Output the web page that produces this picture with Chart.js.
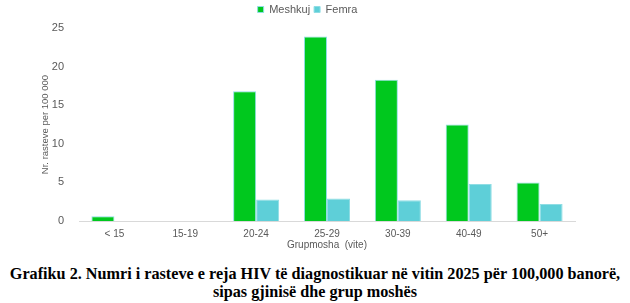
<!DOCTYPE html>
<html>
<head>
<meta charset="utf-8">
<script src="https://cdn.jsdelivr.net/npm/chart.js@4"></script>
<style>
  html, body { margin: 0; padding: 0; background: #fff; }
  #wrap { width: 630px; height: 255px; position: relative; }
  #caption {
    width: 630px; text-align: center;
    font-family: "Liberation Serif", "Times New Roman", serif;
    font-weight: bold; font-size: 16.2px; line-height: 18px;
    color: #000; margin-top: 10px;
  }
</style>
</head>
<body>
<div id="wrap"><canvas id="chart"></canvas></div>
<div id="caption">Grafiku 2. Numri i rasteve e reja HIV të diagnostikuar në vitin 2025 për 100,000 banorë,<br>sipas gjinisë dhe grup moshës</div>
<script>
// grupmoshat
const ageGroups = ['< 15', '15-19', '20-24', '25-29', '30-39', '40-49', '50+'];
const maleRates = [0.6, 0, 16.8, 23.9, 18.3, 12.5, 5.0];
const femaleRates = [0, 0, 2.8, 2.9, 2.7, 4.8, 2.2];
const yTicks = [0, 5, 10, 15, 20, 25];

const gray = '#595959';

// legend pak me shume hapesire poshte
const legendGap = {
    id: 'legendGap',
    beforeInit(chart) {
        const fit = chart.legend.fit;
        chart.legend.fit = function () {
            fit.call(this);
            this.height += 3;
        };
    }
};

const ctx = document.getElementById('chart').getContext('2d');

const chart = new Chart(ctx, {
    type: 'bar',
    data: {
        labels: ageGroups,
        datasets: [
            {
                label: 'Meshkuj',
                data: maleRates,
                backgroundColor: '#00c81e',
                borderColor: '#8fdde4',
                borderWidth: 1
            },
            {
                label: 'Femra',
                data: femaleRates,
                backgroundColor: '#5ecfd8',
                borderColor: '#8fdde4',
                borderWidth: 1
            }
        ]
    },
    plugins: [legendGap],
    options: {
        responsive: true,
        maintainAspectRatio: false,
        animation: false,
        layout: {
            padding: { left: 40, right: 55, top: 0, bottom: 4 }
        },
        datasets: {
            bar: {
                categoryPercentage: 0.65,
                barPercentage: 1
            }
        },
        plugins: {
            legend: {
                position: 'top',
                labels: {
                    boxWidth: 6,
                    boxHeight: 6,
                    color: gray,
                    font: { family: 'Liberation Sans', size: 11 },
                    padding: 4
                }
            },
            tooltip: { enabled: false }
        },
        scales: {
            x: {
                grid: { display: false },
                border: { display: true, color: '#d9d9d9', width: 1 },
                ticks: {
                    color: gray,
                    font: { family: 'Liberation Sans', size: 10 },
                    padding: -1
                },
                title: {
                    display: true,
                    text: 'Grupmosha  (vite)',
                    color: gray,
                    font: { family: 'Liberation Sans', size: 10 },
                    padding: { top: 1, bottom: 0 }
                },
                afterFit: (scale) => { scale.height = 30; }
            },
            y: {
                min: 0,
                max: 25,
                grid: { display: false },
                border: { display: false },
                afterBuildTicks: (scale) => {
                    scale.ticks = yTicks.map(v => ({ value: v }));
                },
                ticks: {
                    color: gray,
                    font: { family: 'Liberation Sans', size: 11 },
                    padding: 7
                },
                title: {
                    display: true,
                    text: 'Nr. rasteve per 100 000',
                    color: gray,
                    font: { family: 'Liberation Sans', size: 9.5 },
                    padding: { top: 0, bottom: 0 }
                },
                afterFit: (scale) => { scale.width = 39; }
            }
        }
    }
});
</script>
</body>
</html>
